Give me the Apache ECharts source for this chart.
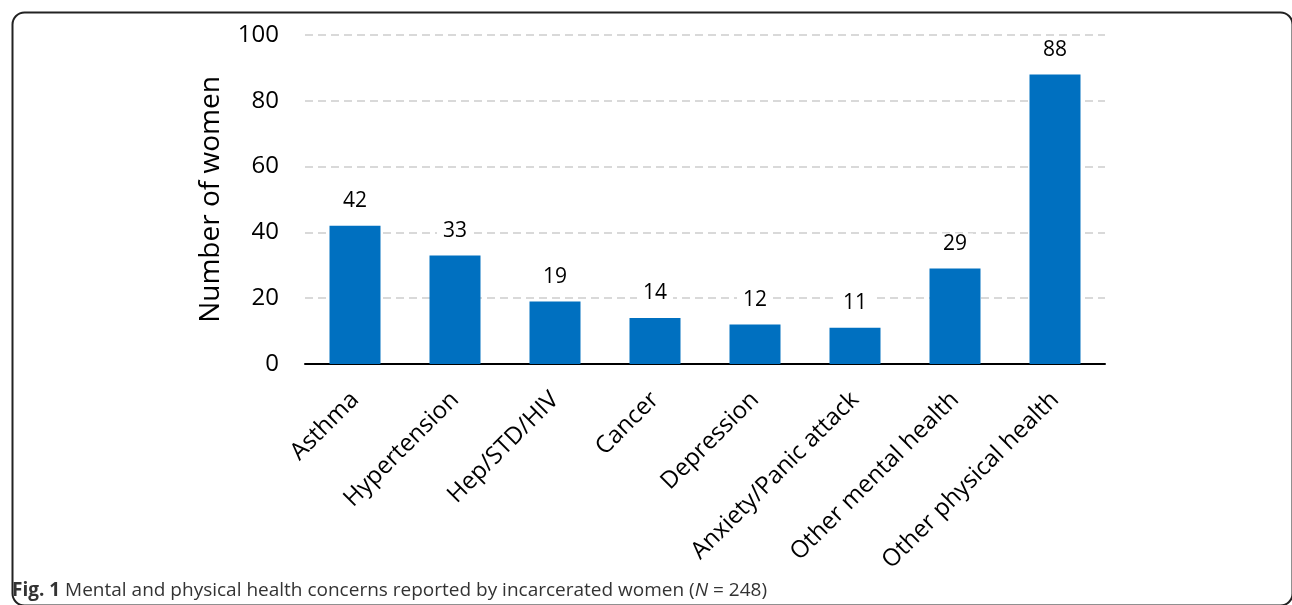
<!DOCTYPE html>
<html>
<head>
<meta charset="utf-8">
<script src="https://cdn.jsdelivr.net/npm/echarts@6/dist/echarts.min.js"></script>
<style>
html,body{margin:0;padding:0;background:#fff;}
#chart{width:1292px;height:605px;}
</style>
</head>
<body>
<div id="chart"></div>
<script>
const categories = ["Asthma","Hypertension","Hep/STD/HIV","Cancer","Depression","Anxiety/Panic attack","Other mental health","Other physical health"];
const values = [42,33,19,14,12,11,29,88];
const yTicks = [0,20,40,60,80,100];
const yAxisTitle = "Number of women";
const captionBold = "Fig. 1";
const captionText = " Mental and physical health concerns reported by incarcerated women (";
const captionN = "N";
const captionEnd = " = 248)";

const chart = echarts.init(document.getElementById('chart'), null, {renderer:'canvas'});
const font = "'Open Sans', sans-serif";
chart.setOption({
  animation:false,
  backgroundColor:'#fff',
  grid:{left:305,right:187,top:35,bottom:241,containLabel:false},
  xAxis:{
    type:'category',
    data:categories,
    axisLine:{lineStyle:{color:'#000',width:2}},
    axisTick:{show:false},
    axisLabel:{rotate:45,interval:0,margin:32,fontSize:24,fontFamily:font,color:'#000'}
  },
  yAxis:{
    type:'value',
    min:yTicks[0],max:yTicks[yTicks.length-1],interval:20,
    name:yAxisTitle,nameLocation:'middle',nameGap:80,
    nameTextStyle:{fontSize:28,fontFamily:font,color:'#000'},
    axisLine:{show:false},axisTick:{show:false},
    axisLabel:{fontSize:24,fontFamily:font,color:'#000',margin:26},
    splitLine:{lineStyle:{color:'#d9d9d9',width:2,type:[8,5]}}
  },
  series:[{
    type:'bar',
    data:values,
    barWidth:'51%',
    itemStyle:{color:'#0070c0'},
    label:{show:true,position:'top',distance:14,fontSize:21,fontFamily:font,color:'#000',backgroundColor:'#fff',padding:[0,6]}
  }],
  graphic:[
    {type:'rect',left:10,top:10,shape:{width:1280,height:593,r:12},style:{fill:null,stroke:'#222',lineWidth:2},silent:true},
    {type:'text',left:12,top:581,style:{
      text:'{b|'+captionBold+'}{r|'+captionText+'}{i|'+captionN+'}{r|'+captionEnd+'}',
      rich:{
        b:{fontSize:19,fontWeight:'bold',fontFamily:font,fill:'#333'},
        r:{fontSize:19,fontFamily:font,fill:'#333'},
        i:{fontSize:19,fontStyle:'italic',fontFamily:font,fill:'#333'}
      }
    }}
  ]
});
</script>
</body>
</html>
